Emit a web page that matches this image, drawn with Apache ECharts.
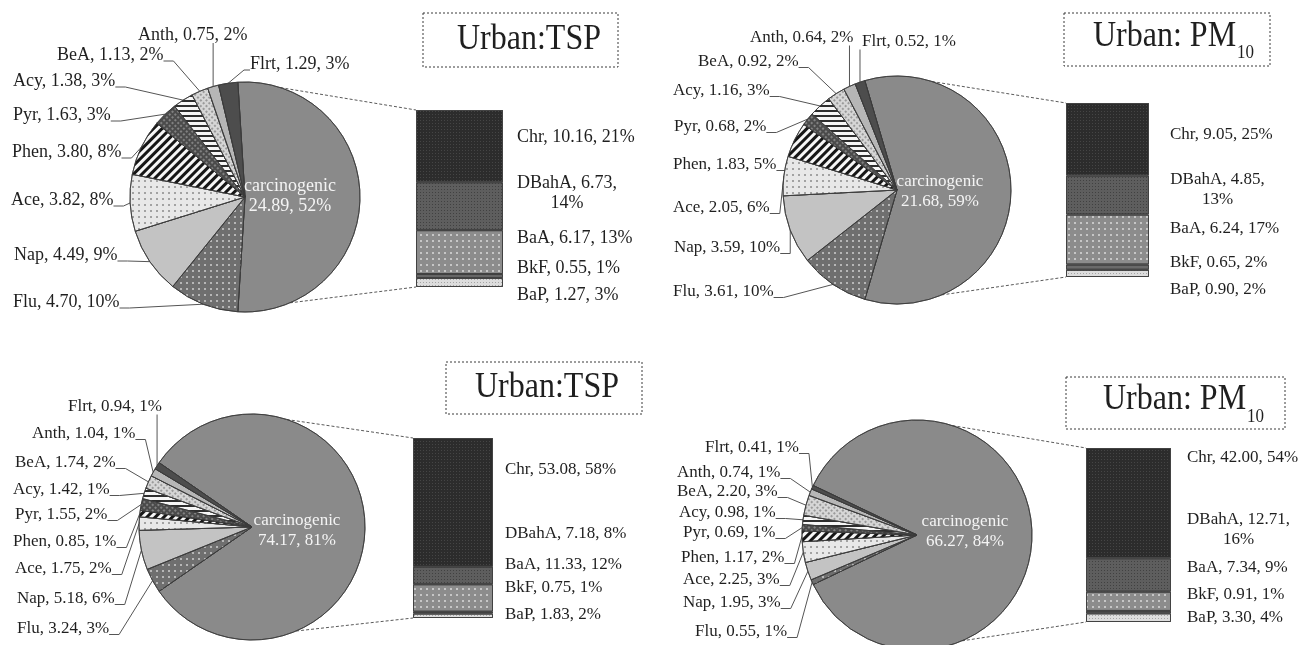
<!DOCTYPE html>
<html>
<head>
<meta charset="utf-8">
<title>PAH composition - pie of bar</title>
<script src="https://cdn.jsdelivr.net/npm/echarts@6.0.0/dist/echarts.min.js"></script>
<style>
  html, body { margin: 0; padding: 0; background: #fff; }
  #chart { width: 1301px; height: 645px; }
</style>
</head>
<body>
<div id="chart"></div>
<script>
// ---- data ----
const pieNames = ['carcinogenic', 'Flu', 'Nap', 'Ace', 'Phen', 'Pyr', 'Acy', 'BeA', 'Anth', 'Flrt']
const barNames = ['Chr', 'DBahA', 'BaA', 'BkF', 'BaP']

const pieValues1 = [24.89, 4.70, 4.49, 3.82, 3.80, 1.63, 1.38, 1.13, 0.75, 1.29]
const piePct1 = [52, 10, 9, 8, 8, 3, 3, 2, 2, 3]
const barValues1 = [10.16, 6.73, 6.17, 0.55, 1.27]
const barPct1 = [21, 14, 13, 1, 3]

const pieValues2 = [21.68, 3.61, 3.59, 2.05, 1.83, 0.68, 1.16, 0.92, 0.64, 0.52]
const piePct2 = [59, 10, 10, 6, 5, 2, 3, 2, 2, 1]
const barValues2 = [9.05, 4.85, 6.24, 0.65, 0.90]
const barPct2 = [25, 13, 17, 2, 2]

const pieValues3 = [74.17, 3.24, 5.18, 1.75, 0.85, 1.55, 1.42, 1.74, 1.04, 0.94]
const piePct3 = [81, 3, 6, 2, 1, 2, 1, 2, 1, 1]
const barValues3 = [53.08, 7.18, 11.33, 0.75, 1.83]
const barPct3 = [58, 8, 12, 1, 2]

const pieValues4 = [66.27, 0.55, 1.95, 2.25, 1.17, 0.69, 0.98, 2.20, 0.74, 0.41]
const piePct4 = [84, 1, 3, 3, 2, 1, 1, 3, 1, 1]
const barValues4 = [42.00, 12.71, 7.34, 0.91, 3.30]
const barPct4 = [54, 16, 9, 1, 4]

const titleTSP = 'Urban:TSP'
const titlePM = '{m|Urban: PM}{s|10}'

// ---- styles ----
const serif = '"Liberation Serif", "Times New Roman", serif'
const ink = '#1f1f1f'
// aria decals are on, so plain fills need an invisible pattern
const plain = { color: 'rgba(0,0,0,0)' }

function dots(color, size, gap, rotation) {
  return { symbol: 'rect', symbolSize: 1, color: color, dashArrayX: [size, gap], dashArrayY: [size, gap], rotation: rotation || 0 }
}
function stripes(color, width, gap, rotation) {
  return { symbol: 'rect', symbolSize: 1, color: color, dashArrayX: [1, 0], dashArrayY: [width, gap], rotation: rotation }
}

const sliceStyle = {
  carcinogenic: { color: '#8a8a8a', decal: plain },
  Flu: { color: '#6f6f6f', decal: dots('rgba(255,255,255,0.5)', 2, 4) },
  Nap: { color: '#c3c3c3', decal: plain },
  Ace: { color: '#e8e8e8', decal: dots('rgba(0,0,0,0.3)', 2, 4) },
  Phen: { color: '#f6f6f6', decal: stripes('#161616', 3, 3, -Math.PI / 4) },
  Pyr: { color: '#4b4b4b', decal: dots('rgba(255,255,255,0.3)', 2, 2, Math.PI / 4) },
  Acy: { color: '#f6f6f6', decal: stripes('#2e2e2e', 2, 3, 0) },
  BeA: { color: '#d6d6d6', decal: dots('rgba(0,0,0,0.28)', 2, 2, Math.PI / 4) },
  Anth: { color: '#b6b6b6', decal: plain },
  Flrt: { color: '#4d4d4d', decal: plain }
}
const barStyle = {
  Chr: { color: '#2c2c2c', decal: dots('rgba(255,255,255,0.12)', 1, 2) },
  DBahA: { color: '#5e5e5e', decal: dots('rgba(0,0,0,0.3)', 1, 2) },
  BaA: { color: '#8c8c8c', decal: dots('rgba(255,255,255,0.5)', 2, 4) },
  BkF: { color: '#6a6a6a', decal: plain },
  BaP: { color: '#dddddd', decal: dots('rgba(0,0,0,0.25)', 1, 2) }
}

// ---- layout of the four panels ----
const panels = [
  {
    pie: pieValues1, piePct: piePct1, bar: barValues1, barPct: barPct1, title: titleTSP,
    cx: 245, cy: 197, r: 115, pieFont: 18,
    rect: { left: 416, top: 110, width: 87, height: 177 },
    barFont: 18, barGap: 14, barLabelY: [137, 193, 238, 268, 295], wrapDBahA: true,
    box: [423, 13, 195, 54], titleX: 457,
    spots: [[290, 196], [13, 302, 'r'], [14, 255, 'r'], [11, 200, 'r'], [12, 152, 'r'], [13, 115, 'r'], [13, 81, 'r'], [57, 55, 'r'], [138, 35, 'b'], [250, 64, 'l']]
  },
  {
    pie: pieValues2, piePct: piePct2, bar: barValues2, barPct: barPct2, title: titlePM,
    cx: 897, cy: 190, r: 114, pieFont: 17,
    rect: { left: 1066, top: 103, width: 83, height: 174 },
    barFont: 17, barGap: 21, barLabelY: [135, 190, 229, 263, 290], wrapDBahA: true,
    box: [1064, 13, 206, 53], titleX: 1093,
    spots: [[940, 192], [673, 292, 'r'], [674, 248, 'r'], [673, 208, 'r'], [673, 165, 'r'], [674, 127, 'r'], [673, 91, 'r'], [698, 62, 'r'], [750, 38, 'b'], [862, 42, 'b']]
  },
  {
    pie: pieValues3, piePct: piePct3, bar: barValues3, barPct: barPct3, title: titleTSP,
    cx: 252, cy: 527, r: 113, pieFont: 17,
    rect: { left: 413, top: 438, width: 80, height: 180 },
    barFont: 17, barGap: 12, barLabelY: [470, 534, 565, 588, 615], wrapDBahA: false,
    box: [446, 362, 196, 52], titleX: 475,
    spots: [[297, 531], [17, 629, 'r'], [17, 599, 'r'], [15, 569, 'r'], [13, 542, 'r'], [15, 515, 'r'], [13, 490, 'r'], [15, 463, 'r'], [32, 434, 'r'], [68, 407, 'b']]
  },
  {
    pie: pieValues4, piePct: piePct4, bar: barValues4, barPct: barPct4, title: titlePM,
    cx: 917, cy: 535, r: 115, pieFont: 17,
    rect: { left: 1086, top: 448, width: 85, height: 174 },
    barFont: 17, barGap: 16, barLabelY: [458, 530, 568, 595, 618], wrapDBahA: true,
    box: [1066, 377, 219, 52], titleX: 1103,
    spots: [[965, 532], [695, 632, 'r'], [683, 603, 'r'], [683, 580, 'r'], [681, 558, 'r'], [683, 533, 'r'], [679, 513, 'r'], [677, 492, 'r'], [677, 473, 'r'], [705, 448, 'r']]
  }
]

const measureCtx = document.createElement('canvas').getContext('2d')
function textWidth(s, size) {
  measureCtx.font = size + 'px ' + serif
  return measureCtx.measureText(s).width
}
function sum(arr) {
  return arr.reduce((a, b) => a + b, 0)
}
function edgePoint(p, deg) {
  const a = deg * Math.PI / 180
  return [p.cx + p.r * Math.cos(a), p.cy - p.r * Math.sin(a)]
}

const grids = []
const xAxes = []
const yAxes = []
const series = []
const graphics = []

panels.forEach((p, i) => {
  const pieTotal = sum(p.pie)

  series.push({
    type: 'pie',
    center: [p.cx, p.cy],
    radius: p.r,
    startAngle: 180 * p.pie[0] / pieTotal,
    clockwise: true,
    avoidLabelOverlap: false,
    animation: false,
    emphasis: { disabled: true },
    itemStyle: { borderColor: '#3a3a3a', borderWidth: 0.8 },
    label: {
      show: true,
      position: 'outside',
      overflow: 'none',
      fontFamily: serif,
      fontSize: p.pieFont,
      color: ink,
      formatter: params => {
        const v = params.value.toFixed(2)
        const pct = p.piePct[params.dataIndex] + '%'
        return params.dataIndex === 0 ? params.name + '\n' + v + ', ' + pct : params.name + ', ' + v + ', ' + pct
      }
    },
    labelLine: { show: true, length: 8, length2: 8, lineStyle: { color: '#555', width: 1 } },
    labelLayout: params => {
      const spot = p.spots[params.dataIndex]
      const x = spot[0]
      const y = spot[1]
      if (params.dataIndex === 0) return { x: x, y: y, align: 'center', verticalAlign: 'middle' }
      const w = params.labelRect.width
      const h = params.labelRect.height
      const p0 = params.labelLinePoints && params.labelLinePoints[0]
      const base = y + h / 2 - 3
      let pts = null
      if (p0) {
        if (spot[2] === 'b') pts = [p0, [p0[0], y + h / 2 - 1], [p0[0], y + h / 2 - 1]]
        else if (spot[2] === 'l') pts = [p0, [x - 6, base], [x, base]]
        else pts = [p0, [x + w + 10, base], [x + w, base]]
      }
      const out = { x: x, y: y, align: 'left', verticalAlign: 'middle' }
      if (pts) out.labelLinePoints = pts
      return out
    },
    data: pieNames.map((n, k) => {
      const item = { name: n, value: p.pie[k], itemStyle: sliceStyle[n] }
      if (k === 0) {
        item.label = { position: 'inside', color: '#f4f4f4', lineHeight: 20 }
        item.labelLine = { show: false }
      }
      return item
    })
  })

  grids.push({ left: p.rect.left, top: p.rect.top, width: p.rect.width, height: p.rect.height })
  xAxes.push({ gridIndex: i, type: 'category', data: [''], show: false })
  yAxes.push({ gridIndex: i, type: 'value', min: 0, max: sum(p.bar), show: false })

  // stacked from the bottom: BaP, BkF, BaA, DBahA, Chr
  for (let k = barNames.length - 1; k >= 0; k--) {
    const n = barNames[k]
    const v = p.bar[k].toFixed(2)
    const pct = p.barPct[k] + '%'
    let text = n + ', ' + v + ', ' + pct
    let wrapW = 0
    if (n === 'DBahA' && p.wrapDBahA) {
      const first = n + ', ' + v + ','
      wrapW = Math.ceil(textWidth(first, p.barFont))
      text = '{c|' + first + '}\n{c|' + pct + '}'
    }
    series.push({
      type: 'bar',
      name: n,
      xAxisIndex: i,
      yAxisIndex: i,
      stack: 'carc' + i,
      barWidth: '100%',
      animation: false,
      emphasis: { disabled: true },
      itemStyle: Object.assign({ borderColor: '#424242', borderWidth: 1 }, barStyle[n]),
      label: {
        show: true,
        position: 'right',
        fontFamily: serif,
        fontSize: p.barFont,
        color: ink,
        formatter: () => text,
        rich: {
          c: { width: wrapW, align: 'center', fontFamily: serif, fontSize: p.barFont, color: ink, lineHeight: 20 }
        }
      },
      labelLayout: params => ({
        x: params.rect.x + params.rect.width + p.barGap,
        y: p.barLabelY[k],
        align: 'left',
        verticalAlign: 'middle'
      }),
      data: [p.bar[k]]
    })
  }

  // dashed connectors from the pie to the bar
  const top = edgePoint(p, 72)
  const bottom = edgePoint(p, -67)
  graphics.push({
    type: 'line', silent: true,
    shape: { x1: top[0], y1: top[1], x2: p.rect.left, y2: p.rect.top },
    style: { stroke: '#5a5a5a', lineWidth: 1, lineDash: [3, 2] }
  })
  graphics.push({
    type: 'line', silent: true,
    shape: { x1: bottom[0], y1: bottom[1], x2: p.rect.left, y2: p.rect.top + p.rect.height },
    style: { stroke: '#5a5a5a', lineWidth: 1, lineDash: [3, 2] }
  })

  // title box
  graphics.push({
    type: 'rect', silent: true,
    shape: { x: p.box[0], y: p.box[1], width: p.box[2], height: p.box[3] },
    style: { fill: 'none', stroke: '#3a3a3a', lineWidth: 1, lineDash: [2, 2] }
  })
  graphics.push({
    type: 'text', silent: true,
    x: p.titleX,
    y: p.box[1] + p.box[3] / 2 - 1,
    scaleY: 1.15,
    style: {
      text: p.title,
      font: '32px ' + serif,
      fill: ink,
      verticalAlign: 'middle',
      rich: {
        m: { fontSize: 32, fontFamily: serif, fill: ink, lineHeight: 36, verticalAlign: 'top' },
        s: { fontSize: 17, fontFamily: serif, fill: ink, lineHeight: 17, verticalAlign: 'top', padding: [22, 0, 0, 1] }
      }
    }
  })
})

const chart = echarts.init(document.getElementById('chart'))
chart.setOption({
  backgroundColor: '#ffffff',
  animation: false,
  aria: { enabled: true, decal: { show: true } },
  grid: grids,
  xAxis: xAxes,
  yAxis: yAxes,
  series: series,
  graphic: graphics
})
</script>
</body>
</html>
